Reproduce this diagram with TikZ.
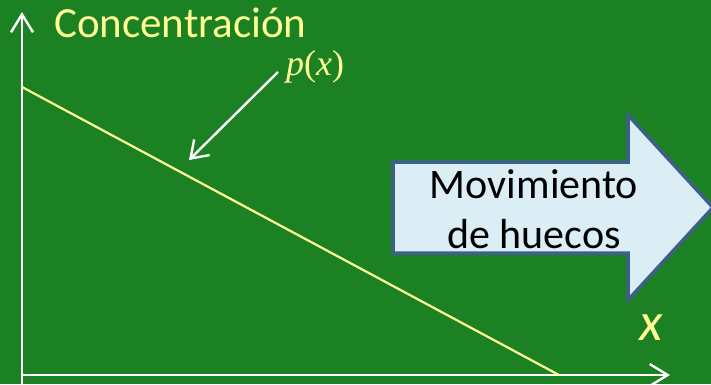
\documentclass[tikz,border=0pt]{standalone}
\usepackage{fontspec}
\setmainfont{Carlito}
\newfontfamily\serifmath{Liberation Serif}
\usetikzlibrary{arrows.meta,positioning}
\definecolor{board}{RGB}{27,129,34}
\definecolor{chalk}{RGB}{255,255,150}
\definecolor{arrowfill}{RGB}{220,238,245}
\definecolor{arrowedge}{RGB}{62,95,140}
\tikzstyle{axis line}=[white,line width=2.4pt,-{Straight Barb[length=18pt,width=22pt]}]
\tikzstyle{pointer line}=[white,line width=2.4pt,-{Straight Barb[length=16pt,width=22pt]}]
\tikzstyle{conc line}=[chalk,line width=2.2pt]
\tikzstyle{chalk text}=[text=chalk,inner sep=0pt]
\tikzstyle{big arrow}=[fill=arrowfill,draw=arrowedge,line width=3.5pt,line join=miter]

\begin{document}
\begin{tikzpicture}[x=1pt,y=-1pt]

		\useasboundingbox (0,0) rectangle (711,384);
		\fill[board] (0,0) rectangle (711,384);

		% axes
		\coordinate (o) at (22,375);
		\coordinate (ybot) at (22,384);
		\coordinate (ytop) at (22,12);
		\coordinate (xend) at (670,375);
		\draw[axis line] (ybot) -- (ytop);
		\draw[axis line] (o) -- (xend);

		% concentration profile
		\coordinate (c0) at (22,87);
		\coordinate (c1) at (559,375);
		\draw[conc line] (c0) -- (c1);

		\node(conc)[chalk text,anchor=base west,font=\fontsize{43}{50}\selectfont] at (54,37) {Concentración};
		\node(px)[chalk text,anchor=base west,font=\fontsize{36}{42}\selectfont\serifmath] at (286,75) {\textit{p}(\textit{x})};
		\node(xl)[chalk text,font=\fontsize{54}{60}\selectfont\itshape] at (651,328) {x};

		\coordinate (pstart) at (278,72);
		\coordinate (ptip) at (189,160);
		\draw[pointer line] (pstart) -- (ptip);

		% hole movement
		\draw[big arrow] (393,162) -- (628,162) -- (628,115) -- (713,207.5) -- (628,300) -- (628,253) -- (393,253) -- cycle;
		\node(mov)[align=center,inner sep=0pt,font=\fontsize{42}{50}\selectfont] at (534,209) {Movimiento\\de huecos};

\end{tikzpicture}
\end{document}
